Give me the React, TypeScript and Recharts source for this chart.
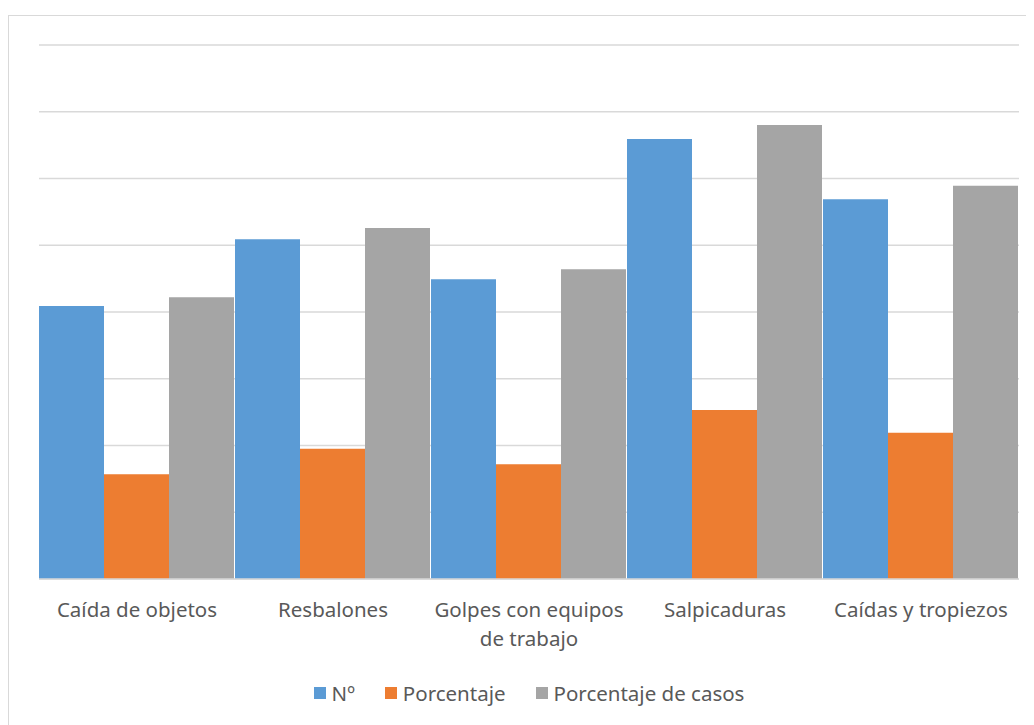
import React from 'react';
import { BarChart, Bar, XAxis, YAxis, CartesianGrid, Legend } from 'recharts';

// Categories and series (unit = one gridline step)
const categories = ['Caída de objetos', 'Resbalones', 'Golpes con equipos de trabajo', 'Salpicaduras', 'Caídas y tropiezos'];
const numero = [4.09, 5.09, 4.49, 6.59, 5.69];
const porcentaje = [1.57, 1.95, 1.72, 2.53, 2.19];
const porcentajeCasos = [4.22, 5.26, 4.64, 6.8, 5.89];
const yTicks = [0, 1, 2, 3, 4, 5, 6, 7, 8];

const seriesInfo = [
  { key: 'numero', name: 'Nº', color: '#5B9BD5' },
  { key: 'porcentaje', name: 'Porcentaje', color: '#ED7D31' },
  { key: 'porcentajeCasos', name: 'Porcentaje de casos', color: '#A5A5A5' },
];

const FONT = '"Noto Sans", sans-serif';
const TEXT = '#595959';
const FONT_SIZE = 20.5;

const wrapLabel = (label: string, maxChars: number) => {
  const words = label.split(' ');
  const lines: string[] = [];
  let cur = '';
  words.forEach((w) => {
    const next = cur ? cur + ' ' + w : w;
    if (next.length > maxChars && cur) {
      lines.push(cur);
      cur = w;
    } else {
      cur = next;
    }
  });
  if (cur) lines.push(cur);
  return lines;
};

const CategoryTick = (props: any) => {
  const { x, y, payload } = props;
  const lines = wrapLabel(payload.value, 20);
  return (
    <text x={x} y={y} textAnchor="middle" fill={TEXT} fontSize={FONT_SIZE} fontFamily={FONT}>
      {lines.map((line, i) => (
        <tspan key={i} x={x} dy={i === 0 ? 30 : 29}>
          {line}
        </tspan>
      ))}
    </text>
  );
};

const LegendContent = () => (
  <div style={{ display: 'flex', justifyContent: 'center', alignItems: 'center', fontFamily: FONT, fontSize: FONT_SIZE, color: TEXT }}>
    {seriesInfo.map((s) => (
      <div key={s.key} style={{ display: 'flex', alignItems: 'center', margin: '0 15px' }}>
        <span style={{ width: 12, height: 12, background: s.color, display: 'inline-block', marginRight: 6 }} />
        <span>{s.name}</span>
      </div>
    ))}
  </div>
);

const App: React.FC = () => {
  const data = categories.map((name, i) => ({
    name,
    numero: numero[i],
    porcentaje: porcentaje[i],
    porcentajeCasos: porcentajeCasos[i],
  }));

  return (
    <div
      style={{
        marginTop: 7,
        width: 1040,
        height: 720,
        border: '1px solid #d9d9d9',
        boxSizing: 'border-box',
        background: '#fff',
      }}
    >
      <BarChart
        width={1026}
        height={700}
        data={data}
        margin={{ top: 29, right: 16, bottom: 7, left: 30 }}
        barCategoryGap={0}
        barGap={0}
      >
        <CartesianGrid vertical={false} stroke="#d9d9d9" strokeWidth={1.3} />
        <XAxis
          dataKey="name"
          axisLine={{ stroke: '#d9d9d9', strokeWidth: 1.3 }}
          tickLine={false}
          tick={<CategoryTick />}
          interval={0}
          height={100}
        />
        <YAxis hide domain={[0, 8]} ticks={yTicks} />
        <Legend verticalAlign="bottom" height={30} wrapperStyle={{ height: 30 }} content={<LegendContent />} />
        {seriesInfo.map((s) => (
          <Bar key={s.key} dataKey={s.key} name={s.name} fill={s.color} isAnimationActive={false} />
        ))}
      </BarChart>
    </div>
  );
};

export default App;
